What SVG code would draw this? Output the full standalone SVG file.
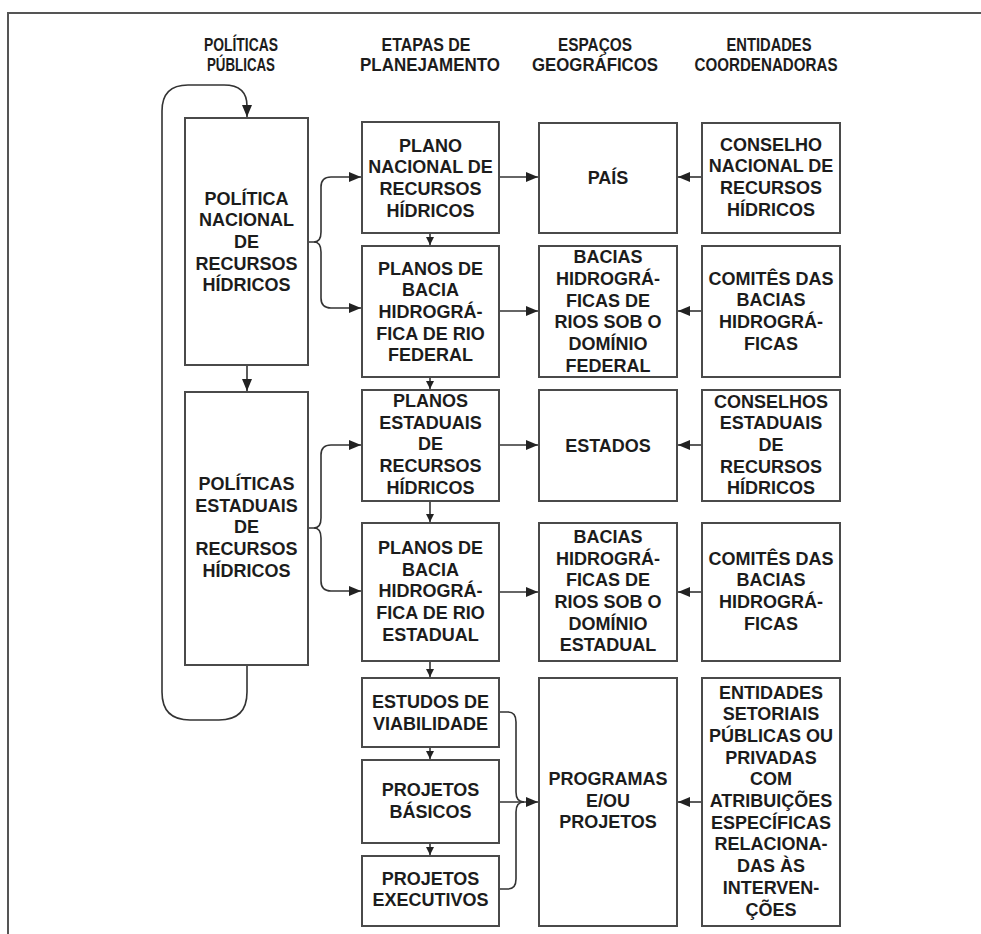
<svg xmlns="http://www.w3.org/2000/svg" width="981" height="934" viewBox="0 0 981 934">
<style>
.bg{fill:#fff}
.frame{fill:none;stroke:#555;stroke-width:2}
.box{fill:#fff;stroke:#4a4a4a;stroke-width:2}
.t{font-family:"Liberation Sans",Arial,sans-serif;font-weight:bold;font-size:18px;fill:#1c1c1c;text-anchor:middle}
.h{font-family:"Liberation Sans",Arial,sans-serif;font-weight:bold;font-size:19px;fill:#1c1c1c;text-anchor:middle}
.c{fill:none;stroke:#333;stroke-width:1.6}
</style>
<defs>
<marker id="a" markerUnits="userSpaceOnUse" markerWidth="12" markerHeight="10" refX="12" refY="5" orient="auto"><path d="M0,0 L12,5 L0,10 z" fill="#222"/></marker>
<marker id="s" markerUnits="userSpaceOnUse" markerWidth="8" markerHeight="8" refX="8" refY="4" orient="auto"><path d="M0,0 L8,4 L0,8 z" fill="#222"/></marker>
</defs>
<rect class="bg" x="0" y="0" width="981" height="934"/>
<path class="frame" d="M8,934 V13 H981"/>

<g id="headers">
<text class="h" x="241" y="51" textLength="74" lengthAdjust="spacingAndGlyphs">POLÍTICAS</text>
<text class="h" x="241" y="71" textLength="68" lengthAdjust="spacingAndGlyphs">PÚBLICAS</text>
<text class="h" x="426" y="51" textLength="89" lengthAdjust="spacingAndGlyphs">ETAPAS DE</text>
<text class="h" x="430" y="71" textLength="140" lengthAdjust="spacingAndGlyphs">PLANEJAMENTO</text>
<text class="h" x="595" y="51" textLength="74" lengthAdjust="spacingAndGlyphs">ESPAÇOS</text>
<text class="h" x="595" y="71" textLength="126" lengthAdjust="spacingAndGlyphs">GEOGRÁFICOS</text>
<text class="h" x="769" y="51" textLength="85" lengthAdjust="spacingAndGlyphs">ENTIDADES</text>
<text class="h" x="766" y="71" textLength="143" lengthAdjust="spacingAndGlyphs">COORDENADORAS</text>
</g>

<g id="connectors">
<path class="c" d="M247,665 V692 Q247,720 219,720 H190 Q162,720 162,692 V111 Q162,85 188,85 H224 Q247,85 247,106 V117" marker-end="url(#a)"/>
<path class="c" d="M247,365 V391" marker-end="url(#a)"/>
<path class="c" d="M308,242 H314 Q321,242 321,232 V187 Q321,177 331,177 H361" marker-end="url(#a)"/>
<path class="c" d="M314,242 Q321,242 321,252 V298 Q321,308 331,308 H361" marker-end="url(#a)"/>
<path class="c" d="M308,528 H314 Q321,528 321,518 V455 Q321,445 331,445 H361" marker-end="url(#a)"/>
<path class="c" d="M314,528 Q321,528 321,538 V581 Q321,591 331,591 H361" marker-end="url(#a)"/>
<path class="c" d="M430,233 V245" marker-end="url(#s)"/>
<path class="c" d="M430,377 V389" marker-end="url(#s)"/>
<path class="c" d="M430,501 V522" marker-end="url(#s)"/>
<path class="c" d="M430,661 V677" marker-end="url(#s)"/>
<path class="c" d="M430,747 V759" marker-end="url(#s)"/>
<path class="c" d="M430,843 V855" marker-end="url(#s)"/>
<path class="c" d="M499,177 H538" marker-end="url(#a)"/>
<path class="c" d="M499,311 H538" marker-end="url(#a)"/>
<path class="c" d="M499,445 H538" marker-end="url(#a)"/>
<path class="c" d="M499,592 H538" marker-end="url(#a)"/>
<path class="c" d="M499,712 H508 Q516,712 516,722 V792 Q516,802 524,802"/>
<path class="c" d="M499,889 H508 Q516,889 516,879 V812 Q516,802 524,802"/>
<path class="c" d="M499,802 H538" marker-end="url(#a)"/>
<path class="c" d="M702,177 H678" marker-end="url(#a)"/>
<path class="c" d="M702,311 H678" marker-end="url(#a)"/>
<path class="c" d="M702,445 H678" marker-end="url(#a)"/>
<path class="c" d="M702,592 H678" marker-end="url(#a)"/>
<path class="c" d="M702,802 H678" marker-end="url(#a)"/>
</g>

<g id="pol-nacional">
<rect class="box" x="185" y="118" width="123" height="247"/>
<text class="t" x="246.5" y="204.6"><tspan x="246.5">POLÍTICA</tspan><tspan x="246.5" dy="21.7">NACIONAL</tspan><tspan x="246.5" dy="21.7">DE</tspan><tspan x="246.5" dy="21.7">RECURSOS</tspan><tspan x="246.5" dy="21.7">HÍDRICOS</tspan></text>
</g>
<g id="pol-estaduais">
<rect class="box" x="185" y="392" width="123" height="273"/>
<text class="t" x="246.5" y="490"><tspan x="246.5">POLÍTICAS</tspan><tspan x="246.5" dy="21.7">ESTADUAIS</tspan><tspan x="246.5" dy="21.7">DE</tspan><tspan x="246.5" dy="21.7">RECURSOS</tspan><tspan x="246.5" dy="21.7">HÍDRICOS</tspan></text>
</g>

<g id="plano-nacional">
<rect class="box" x="362" y="122" width="137" height="111"/>
<text class="t" x="430.5" y="151.5"><tspan x="430.5">PLANO</tspan><tspan x="430.5" dy="21.7">NACIONAL DE</tspan><tspan x="430.5" dy="21.7">RECURSOS</tspan><tspan x="430.5" dy="21.7">HÍDRICOS</tspan></text>
</g>
<g id="planos-bacia-federal">
<rect class="box" x="362" y="246" width="137" height="131"/>
<text class="t" x="430.5" y="274.5"><tspan x="430.5">PLANOS DE</tspan><tspan x="430.5" dy="21.7">BACIA</tspan><tspan x="430.5" dy="21.7">HIDROGRÁ-</tspan><tspan x="430.5" dy="21.7">FICA DE RIO</tspan><tspan x="430.5" dy="21.7">FEDERAL</tspan></text>
</g>
<g id="planos-estaduais">
<rect class="box" x="362" y="390" width="137" height="111"/>
<text class="t" x="430.5" y="407"><tspan x="430.5">PLANOS</tspan><tspan x="430.5" dy="21.7">ESTADUAIS</tspan><tspan x="430.5" dy="21.7">DE</tspan><tspan x="430.5" dy="21.7">RECURSOS</tspan><tspan x="430.5" dy="21.7">HÍDRICOS</tspan></text>
</g>
<g id="planos-bacia-estadual">
<rect class="box" x="362" y="523" width="137" height="138"/>
<text class="t" x="430.5" y="554"><tspan x="430.5">PLANOS DE</tspan><tspan x="430.5" dy="21.7">BACIA</tspan><tspan x="430.5" dy="21.7">HIDROGRÁ-</tspan><tspan x="430.5" dy="21.7">FICA DE RIO</tspan><tspan x="430.5" dy="21.7">ESTADUAL</tspan></text>
</g>
<g id="estudos">
<rect class="box" x="362" y="678" width="137" height="69"/>
<text class="t" x="430.5" y="708"><tspan x="430.5">ESTUDOS DE</tspan><tspan x="430.5" dy="21.7">VIABILIDADE</tspan></text>
</g>
<g id="projetos-basicos">
<rect class="box" x="362" y="760" width="137" height="83"/>
<text class="t" x="430.5" y="796"><tspan x="430.5">PROJETOS</tspan><tspan x="430.5" dy="21.7">BÁSICOS</tspan></text>
</g>
<g id="projetos-executivos">
<rect class="box" x="362" y="856" width="137" height="70"/>
<text class="t" x="430.5" y="884.6"><tspan x="430.5">PROJETOS</tspan><tspan x="430.5" dy="21.7">EXECUTIVOS</tspan></text>
</g>

<g id="pais">
<rect class="box" x="539" y="123" width="138" height="110"/>
<text class="t" x="608" y="184">PAÍS</text>
</g>
<g id="bacias-federal">
<rect class="box" x="539" y="246" width="138" height="131"/>
<text class="t" x="608" y="263.3"><tspan x="608">BACIAS</tspan><tspan x="608" dy="21.7">HIDROGRÁ-</tspan><tspan x="608" dy="21.7">FICAS DE</tspan><tspan x="608" dy="21.7">RIOS SOB O</tspan><tspan x="608" dy="21.7">DOMÍNIO</tspan><tspan x="608" dy="21.7">FEDERAL</tspan></text>
</g>
<g id="estados">
<rect class="box" x="539" y="390" width="138" height="111"/>
<text class="t" x="608" y="451.5">ESTADOS</text>
</g>
<g id="bacias-estadual">
<rect class="box" x="539" y="523" width="138" height="138"/>
<text class="t" x="608" y="542.8"><tspan x="608">BACIAS</tspan><tspan x="608" dy="21.7">HIDROGRÁ-</tspan><tspan x="608" dy="21.7">FICAS DE</tspan><tspan x="608" dy="21.7">RIOS SOB O</tspan><tspan x="608" dy="21.7">DOMÍNIO</tspan><tspan x="608" dy="21.7">ESTADUAL</tspan></text>
</g>
<g id="programas">
<rect class="box" x="539" y="678" width="138" height="248"/>
<text class="t" x="608" y="784.8"><tspan x="608">PROGRAMAS</tspan><tspan x="608" dy="21.7">E/OU</tspan><tspan x="608" dy="21.7">PROJETOS</tspan></text>
</g>

<g id="cnrh">
<rect class="box" x="702" y="123" width="138" height="110"/>
<text class="t" x="771" y="150.5"><tspan x="771">CONSELHO</tspan><tspan x="771" dy="21.7">NACIONAL DE</tspan><tspan x="771" dy="21.7">RECURSOS</tspan><tspan x="771" dy="21.7">HÍDRICOS</tspan></text>
</g>
<g id="comites-federal">
<rect class="box" x="702" y="246" width="138" height="131"/>
<text class="t" x="771" y="284.5"><tspan x="771">COMITÊS DAS</tspan><tspan x="771" dy="21.7">BACIAS</tspan><tspan x="771" dy="21.7">HIDROGRÁ-</tspan><tspan x="771" dy="21.7">FICAS</tspan></text>
</g>
<g id="cerh">
<rect class="box" x="702" y="390" width="138" height="111"/>
<text class="t" x="771" y="407.6"><tspan x="771">CONSELHOS</tspan><tspan x="771" dy="21.7">ESTADUAIS</tspan><tspan x="771" dy="21.7">DE</tspan><tspan x="771" dy="21.7">RECURSOS</tspan><tspan x="771" dy="21.7">HÍDRICOS</tspan></text>
</g>
<g id="comites-estadual">
<rect class="box" x="702" y="523" width="138" height="138"/>
<text class="t" x="771" y="564.5"><tspan x="771">COMITÊS DAS</tspan><tspan x="771" dy="21.7">BACIAS</tspan><tspan x="771" dy="21.7">HIDROGRÁ-</tspan><tspan x="771" dy="21.7">FICAS</tspan></text>
</g>
<g id="entidades">
<rect class="box" x="702" y="678" width="138" height="248"/>
<text class="t" x="771" y="698.5"><tspan x="771">ENTIDADES</tspan><tspan x="771" dy="21.7">SETORIAIS</tspan><tspan x="771" dy="21.7">PÚBLICAS OU</tspan><tspan x="771" dy="21.7">PRIVADAS</tspan><tspan x="771" dy="21.7">COM</tspan><tspan x="771" dy="21.7">ATRIBUIÇÕES</tspan><tspan x="771" dy="21.7">ESPECÍFICAS</tspan><tspan x="771" dy="21.7">RELACIONA-</tspan><tspan x="771" dy="21.7">DAS ÀS</tspan><tspan x="771" dy="21.7">INTERVEN-</tspan><tspan x="771" dy="21.7">ÇÕES</tspan></text>
</g>
</svg>
